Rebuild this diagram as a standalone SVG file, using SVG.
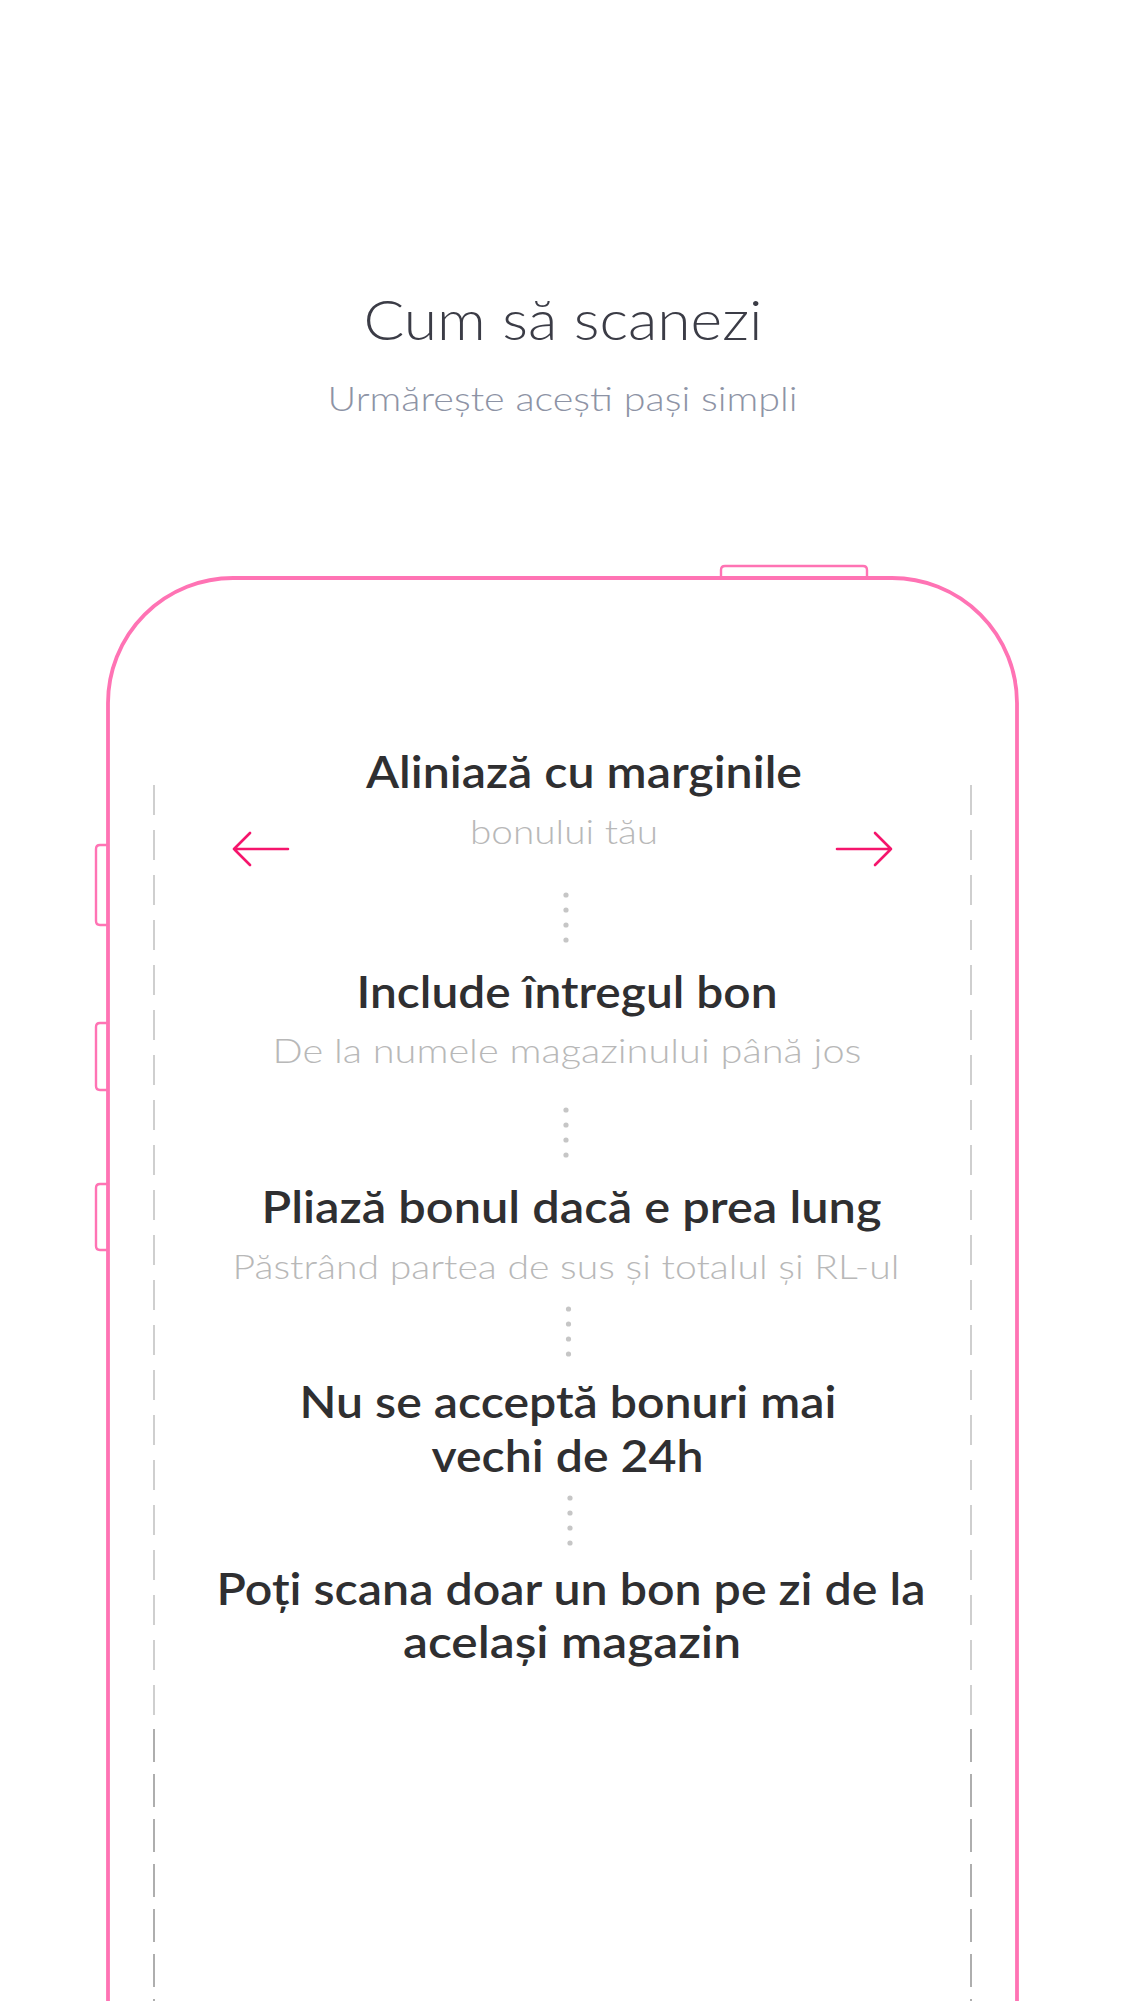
<svg xmlns="http://www.w3.org/2000/svg" width="1125" height="2001" viewBox="0 0 1125 2001">
<style>
.title{font-family:Lato,"Liberation Sans",sans-serif;font-weight:300;font-size:56px;fill:#3b3c46;text-anchor:middle}
.sub{font-family:Lato,"Liberation Sans",sans-serif;font-weight:300;font-size:33px;fill:#8d93a5;text-anchor:middle}
.head{font-family:Lato,"Liberation Sans",sans-serif;font-weight:600;font-size:44px;fill:#2f2f31;text-anchor:middle}
.note{font-family:Lato,"Liberation Sans",sans-serif;font-weight:300;font-size:34px;fill:#b8b8b8;text-anchor:middle}
.phone{fill:none;stroke:#ff73b4;stroke-width:3.8}
.btn{fill:none;stroke:#ff73b4;stroke-width:2.4}
.dash{stroke:#cfcfcf;stroke-width:2;stroke-dasharray:30 15;fill:none}
.dash2{stroke:#aeaeae;stroke-width:2;stroke-dasharray:33 12;fill:none}
.arrow{fill:none;stroke:#f5156c;stroke-width:2.6;stroke-linecap:round;stroke-linejoin:round}
.dot{fill:#c6c6c6}
</style>
<rect width="1125" height="2001" fill="#ffffff"/>
<g id="header">
<text class="title" x="563" y="340" textLength="399" lengthAdjust="spacingAndGlyphs">Cum să scanezi</text>
<text class="sub" x="562.5" y="411" textLength="470" lengthAdjust="spacingAndGlyphs">Urmărește acești pași simpli</text>
</g>
<g id="phone">
<path class="phone" d="M108,2010 V703 A125,125 0 0 1 233,578 H892 A125,125 0 0 1 1017,703 V2010"/>
<path class="btn" d="M721,578 V570 Q721,566 725,566 H863 Q867,566 867,570 V578"/>
<path class="btn" d="M108,845 H100 Q96,845 96,849 V921 Q96,925 100,925 H108"/>
<path class="btn" d="M108,1023 H100 Q96,1023 96,1027 V1086 Q96,1090 100,1090 H108"/>
<path class="btn" d="M108,1184 H100 Q96,1184 96,1188 V1246 Q96,1250 100,1250 H108"/>
</g>
<g id="guides">
<line class="dash" x1="154" y1="785" x2="154" y2="1720"/>
<line class="dash" x1="971" y1="785" x2="971" y2="1720"/>
<line class="dash2" x1="154" y1="1729" x2="154" y2="2001"/>
<line class="dash2" x1="971" y1="1729" x2="971" y2="2001"/>
</g>
<g id="arrows">
<path class="arrow" d="M288,849 H234 M250,833 L234,849 L250,865"/>
<path class="arrow" d="M837,849 H891 M875,833 L891,849 L875,865"/>
</g>
<g id="step1">
<text class="head" x="584" y="788" textLength="436" lengthAdjust="spacingAndGlyphs">Aliniază cu marginile</text>
<text class="note" x="564" y="844" textLength="188" lengthAdjust="spacingAndGlyphs">bonului tău</text>
</g>
<g id="step2">
<text class="head" x="567" y="1008" textLength="421" lengthAdjust="spacingAndGlyphs">Include întregul bon</text>
<text class="note" x="567" y="1063" textLength="589" lengthAdjust="spacingAndGlyphs">De la numele magazinului până jos</text>
</g>
<g id="step3">
<text class="head" x="571.5" y="1223" textLength="620" lengthAdjust="spacingAndGlyphs">Pliază bonul dacă e prea lung</text>
<text class="note" x="566" y="1279" textLength="667" lengthAdjust="spacingAndGlyphs">Păstrând partea de sus și totalul și RL-ul</text>
</g>
<g id="step4">
<text class="head" x="568" y="1418" textLength="537" lengthAdjust="spacingAndGlyphs">Nu se acceptă bonuri mai</text>
<text class="head" x="567.5" y="1472" textLength="272" lengthAdjust="spacingAndGlyphs">vechi de 24h</text>
</g>
<g id="step5">
<text class="head" x="571" y="1605" textLength="709" lengthAdjust="spacingAndGlyphs">Poți scana doar un bon pe zi de la</text>
<text class="head" x="572" y="1658" textLength="338" lengthAdjust="spacingAndGlyphs">același magazin</text>
</g>
<g id="connectors">
<circle class="dot" cx="566" cy="895" r="2.6"/><circle class="dot" cx="566" cy="910" r="2.6"/><circle class="dot" cx="566" cy="925" r="2.6"/><circle class="dot" cx="566" cy="940" r="2.6"/>
<circle class="dot" cx="566" cy="1110" r="2.6"/><circle class="dot" cx="566" cy="1125" r="2.6"/><circle class="dot" cx="566" cy="1140" r="2.6"/><circle class="dot" cx="566" cy="1155" r="2.6"/>
<circle class="dot" cx="568.5" cy="1309" r="2.6"/><circle class="dot" cx="568.5" cy="1324" r="2.6"/><circle class="dot" cx="568.5" cy="1339" r="2.6"/><circle class="dot" cx="568.5" cy="1354" r="2.6"/>
<circle class="dot" cx="570" cy="1498" r="2.6"/><circle class="dot" cx="570" cy="1513" r="2.6"/><circle class="dot" cx="570" cy="1528" r="2.6"/><circle class="dot" cx="570" cy="1543" r="2.6"/>
</g>
</svg>
